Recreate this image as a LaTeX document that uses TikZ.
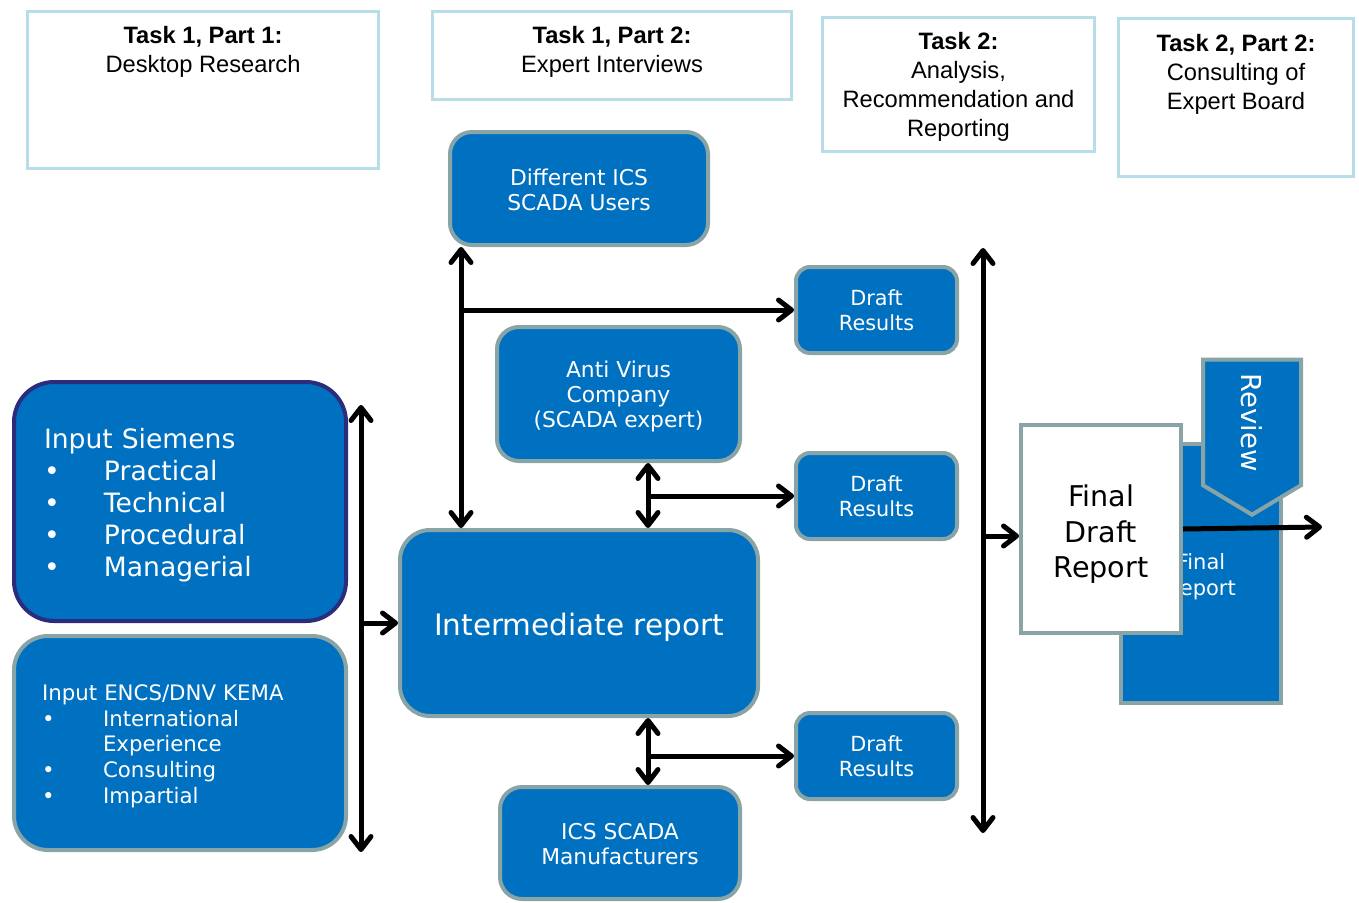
\documentclass[tikz,border=0pt]{standalone}
\usepackage{fontspec}
\setmainfont{DejaVu Sans}
\newfontfamily\taskfont{Liberation Sans}
\usetikzlibrary{shapes.symbols, arrows.meta, positioning, calc}
\definecolor{boxblue}{HTML}{0070C0}
\definecolor{boxrim}{HTML}{89A4A7}
\definecolor{taskrim}{HTML}{B7DDE8}
\definecolor{siemensrim}{HTML}{2B2C7C}
\newcommand{\toprule}[1]{\rule{0pt}{#1}}
\tikzset{
  bluebox/.style={
    rectangle, draw=boxrim, fill=boxblue,
    line width=4pt, rounded corners=22pt,
    text=white, align=center, inner sep=0pt,
    execute at begin node={\rule{0pt}{1.05em}},
    font=\fontsize{21.8}{25}\selectfont
  },
  draftbox/.style={
    bluebox, rounded corners=14pt,
    minimum width=161pt, minimum height=86pt,
    font=\fontsize{20.8}{25}\selectfont
  },
  taskbox/.style={rectangle, draw=taskrim, line width=3pt, fill=white},
  tasktext/.style={
    align=center, anchor=north, inner sep=0pt,
    font=\taskfont\fontsize{23.7}{29}\selectfont
  },
  reportbox/.style={rectangle, draw=boxrim, line width=4pt, inner sep=0pt, align=center},
  link/.style={draw, line width=5pt, -{Straight Barb[length=13pt, width=20pt, round]}},
  twoway/.style={link, {Straight Barb[length=13pt, width=20pt, round]}-{Straight Barb[length=13pt, width=20pt, round]}},
}

\begin{document}
\begin{tikzpicture}[x=1pt, y=-1pt]
  \useasboundingbox (0,0) rectangle (1359,902);

  % task headers
  \node[taskbox, minimum width=351pt, minimum height=157pt,
    label={[tasktext, yshift=-16pt]north:{\bfseries Task 1, Part 1:\\Desktop Research}}]
    (task1a) at (203,90) {};
  \node[taskbox, minimum width=359pt, minimum height=88pt,
    label={[tasktext, yshift=-16pt]north:{\bfseries Task 1, Part 2:\\Expert Interviews}}]
    (task1b) at (612,55.5) {};
  \node[taskbox, minimum width=272pt, minimum height=134pt,
    label={[tasktext, yshift=-16pt]north:{\bfseries Task 2:\\Analysis,\\Recommendation and\\Reporting}}]
    (task2a) at (958.5,84.5) {};
  \node[taskbox, minimum width=235pt, minimum height=158pt,
    label={[tasktext, yshift=-17pt]north:{\bfseries Task 2, Part 2:\\Consulting of\\Expert Board}}]
    (task2b) at (1236,97.5) {};

  % inputs
  \node[bluebox, draw=siemensrim, rounded corners=40pt, minimum height=239pt,
    text width=272pt, inner xsep=30pt, align=left,
    font=\fontsize{26.6}{32}\selectfont] (siemens) at (180,501.5)
    {Input Siemens\\
     \makebox[60pt][l]{\textbullet}Practical\\
     \makebox[60pt][l]{\textbullet}Technical\\
     \makebox[60pt][l]{\textbullet}Procedural\\
     \makebox[60pt][l]{\textbullet}Managerial};
  \node[bluebox, rounded corners=34pt, minimum height=214pt,
    text width=276pt, inner xsep=28pt, align=left,
    font=\fontsize{21.3}{25.7}\selectfont] (encs) at (180,743)
    {Input ENCS/DNV KEMA\\
     \makebox[61pt][l]{\textbullet}International\\
     \hspace*{61pt}Experience\\
     \makebox[61pt][l]{\textbullet}Consulting\\
     \makebox[61pt][l]{\textbullet}Impartial};

  % experts and intermediate report
  \node[bluebox, minimum width=258pt, minimum height=113pt] (users) at (579,188.5)
    {\toprule{20pt}Different ICS\\SCADA Users};
  \node[bluebox, minimum width=243pt, minimum height=134pt] (antivirus) at (618.5,394)
    {\toprule{22pt}Anti Virus\\Company\\(SCADA expert)};
  \node[bluebox, rounded corners=30pt, minimum width=358pt, minimum height=186pt,
    font=\fontsize{29.5}{35}\selectfont] (inter) at (579,623) {Intermediate report};
  \node[bluebox, minimum width=240pt, minimum height=112pt] (manuf) at (620,843)
    {\toprule{19pt}ICS SCADA\\Manufacturers};

  \node[draftbox] (draft1) at (876.5,310) {Draft\\Results};
  \node[draftbox] (draft2) at (876.5,496) {Draft\\Results};
  \node[draftbox] (draft3) at (876.5,756) {Draft\\Results};

  % final reports
  \node[reportbox, fill=boxblue, text=white, minimum width=160pt, minimum height=259pt,
    font=\fontsize{21}{26}\selectfont] (final) at (1201,573.5) {\toprule{23pt}Final\\Report};
  \node[reportbox, fill=white, minimum width=160pt, minimum height=208pt,
    font=\fontsize{28.6}{35.5}\selectfont] (finaldraft) at (1101,529)
    {\toprule{32pt}Final\\Draft\\Report};
  \node[signal, signal to=east, rotate=-90, draw=boxrim, fill=boxblue, line width=4pt,
    text=white, minimum width=155pt, minimum height=98pt, signal pointer angle=118,
    inner sep=0pt, anchor=east, font=\fontsize{27.5}{32}\selectfont] (review) at (1252,517) {Review};

  % connectors
  \coordinate (ltop) at (361,405);
  \coordinate (lbot) at (361,852);
  \coordinate (l1) at (361,623);
  \draw[twoway] (ltop) -- (lbot);
  \draw[link] (l1) -- (inter.west);

  \coordinate (u1) at (461,310);
  \draw[twoway] (u1 |- users.south) -- (u1 |- inter.north);
  \draw[link] (u1) -- (u1 -| draft1.west);

  \coordinate (a1) at (648,496);
  \draw[twoway] (a1 |- antivirus.south) -- (a1 |- inter.north);
  \draw[link] (a1) -- (a1 -| draft2.west);

  \coordinate (m1) at (648,756);
  \draw[twoway] (m1 |- inter.south) -- (m1 |- manuf.north);
  \draw[link] (m1) -- (m1 -| draft3.west);

  \coordinate (rtop) at (983,248);
  \coordinate (rbot) at (983,833);
  \coordinate (r1) at (983,536);
  \draw[twoway] (rtop) -- (rbot);
  \draw[link] (r1) -- (r1 -| finaldraft.west);

  \coordinate (out) at (1322,527);
  \draw[link] (finaldraft.east) -- (out);
\end{tikzpicture}
\end{document}
